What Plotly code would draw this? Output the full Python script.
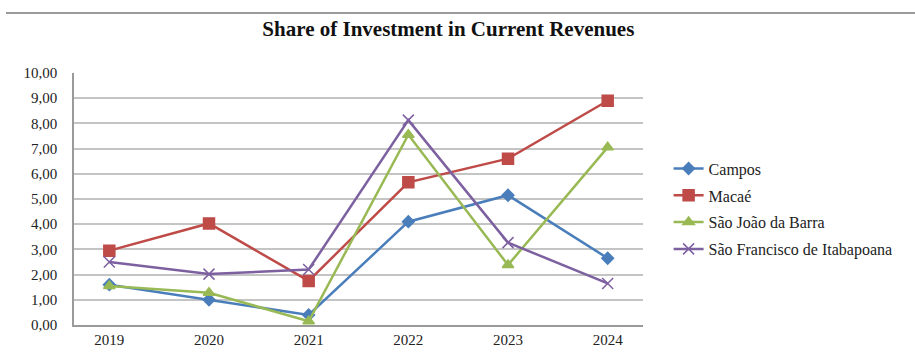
import plotly.graph_objects as go

years = ["2019", "2020", "2021", "2022", "2023", "2024"]
campos = [1.60, 1.00, 0.40, 4.10, 5.15, 2.65]
macae = [2.95, 4.03, 1.75, 5.66, 6.60, 8.90]
sao_joao = [1.55, 1.28, 0.15, 7.55, 2.38, 7.05]
sao_francisco = [2.50, 2.02, 2.20, 8.13, 3.27, 1.65]

names = ["Campos", "Macaé", "São João da Barra", "São Francisco de Itabapoana"]
colors = ["#4A7EBB", "#BE4B48", "#98B954", "#7D60A0"]
symbols = ["diamond", "square", "triangle-up", "x-thin"]
sizes = [9, 11, 10, 11]
series = [campos, macae, sao_joao, sao_francisco]

SERIF = "Liberation Serif"

fig = go.Figure()
for i, (name, vals) in enumerate(zip(names, series)):
    fig.add_trace(go.Scatter(
        x=years, y=vals, name=name, mode="lines+markers",
        legendgroup=f"g{i}",
        line=dict(color=colors[i], width=2.5),
        marker=dict(symbol=symbols[i], size=sizes[i], color=colors[i],
                    line=dict(color=colors[i], width=1.5)),
    ))

fig.update_layout(
    width=915, height=353,
    margin=dict(l=74, r=272, t=73, b=28),
    paper_bgcolor="white", plot_bgcolor="white",
    separators=", ",
    font=dict(family=SERIF, size=15, color="#222"),
    title=dict(text="<b>Share of Investment in Current Revenues</b>",
               x=0.49, xanchor="center", y=1 - 29 / 353, yanchor="middle",
               yref="container",
               font=dict(family=SERIF, size=21, color="#111")),
    xaxis=dict(type="category", showgrid=False, showline=True,
               linecolor="#9a9a9a", linewidth=1.5, ticks="",
               automargin=False,
               tickfont=dict(family=SERIF, size=15, color="#222"),
               fixedrange=True),
    yaxis=dict(range=[0, 10], dtick=1, tickformat=".2f",
               showgrid=True, gridcolor="#c4c4c4", gridwidth=2,
               showline=True, linecolor="#9a9a9a", linewidth=1.5,
               zeroline=False, ticks="", ticklabelstandoff=12,
               automargin=False,
               tickfont=dict(family=SERIF, size=15, color="#222")),
    legend=dict(x=1.045, y=0.46, xanchor="left", yanchor="middle",
                traceorder="grouped", tracegroupgap=3, itemwidth=30,
                font=dict(family=SERIF, size=16, color="#222"),
                bgcolor="rgba(0,0,0,0)"),
    showlegend=True,
)

# thin rule across the top of the figure
fig.add_shape(type="line", xref="paper", yref="paper",
              x0=(6 - 74) / 569, x1=(915 - 74) / 569,
              y0=(325 - 13) / 252, y1=(325 - 13) / 252,
              line=dict(color="#9a9a9a", width=2))

fig.write_html("out.html")
